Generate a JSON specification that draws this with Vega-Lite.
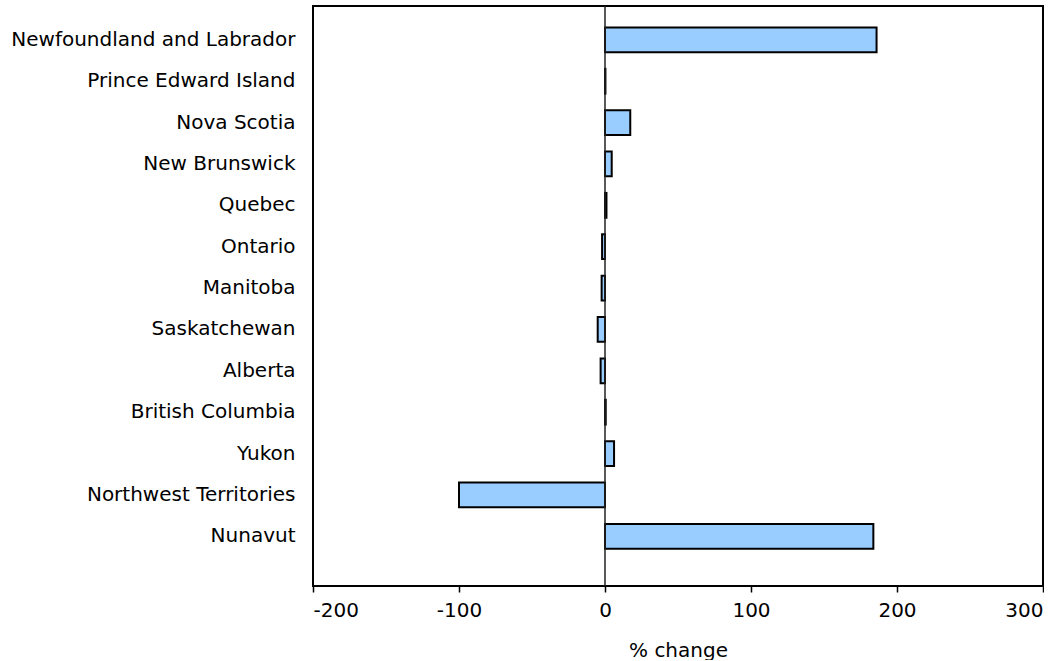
{
  "$schema": "https://vega.github.io/schema/vega-lite/v6.json",
  "width": 730,
  "height": 580,
  "padding": {"left": 10, "top": 5, "right": 0, "bottom": 0},
  "autosize": {"type": "pad"},
  "config": {
    "font": "DejaVu Sans",
    "view": {"stroke": "black", "strokeWidth": 2}
  },
  "data": {
    "values": [
      {"region": "Newfoundland and Labrador", "value": 186},
      {"region": "Prince Edward Island", "value": 0.3},
      {"region": "Nova Scotia", "value": 17.3},
      {"region": "New Brunswick", "value": 4.6},
      {"region": "Quebec", "value": 1.0},
      {"region": "Ontario", "value": -2.0},
      {"region": "Manitoba", "value": -2.3},
      {"region": "Saskatchewan", "value": -5.0},
      {"region": "Alberta", "value": -3.0},
      {"region": "British Columbia", "value": 0.5},
      {"region": "Yukon", "value": 6.2},
      {"region": "Northwest Territories", "value": -100},
      {"region": "Nunavut", "value": 183.8}
    ]
  },
  "layer": [
    {
      "mark": {"type": "bar", "fill": "#99ccff", "stroke": "black", "strokeWidth": 2},
      "encoding": {
        "y": {
          "field": "region",
          "type": "nominal",
          "sort": null,
          "scale": {"paddingInner": 0.4, "paddingOuter": 0.71, "align": 0.365},
          "axis": {
            "title": null,
            "ticks": false,
            "domain": false,
            "labelFontSize": 20,
            "labelPadding": 18,
            "labelColor": "black",
            "labelLimit": 400
          }
        },
        "x": {
          "field": "value",
          "type": "quantitative",
          "scale": {"domain": [-200, 300], "nice": false, "zero": false},
          "axis": {
            "values": [-200, -100, 0, 100, 200, 300],
            "labelExpr": "'' + datum.value",
            "title": "% change",
            "titleFontSize": 20,
            "titleFontWeight": "normal",
            "titleColor": "black",
            "titlePadding": 20,
            "grid": false,
            "domain": false,
            "tickColor": "black",
            "tickSize": 6,
            "tickWidth": 1.5,
            "labelFontSize": 20,
            "labelColor": "black",
            "labelPadding": 8
          }
        }
      }
    },
    {
      "data": {"values": [{"zero": 0}]},
      "mark": {"type": "rule", "color": "#222222", "strokeWidth": 1.5},
      "encoding": {"x": {"field": "zero", "type": "quantitative"}}
    }
  ]
}
